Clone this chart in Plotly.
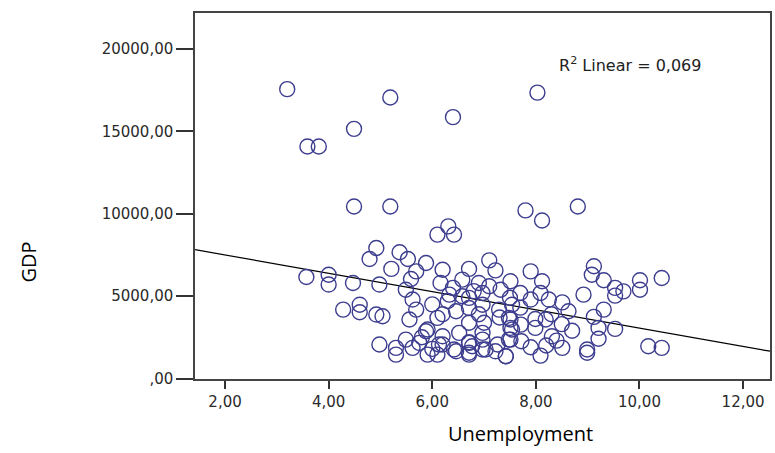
import plotly.graph_objects as go

# Unemployment (x) and GDP (y) values
unemployment = [
    3.20, 5.19, 6.40, 4.49, 3.59, 3.81, 4.49, 5.19, 6.31, 6.10, 6.42,
    8.03, 7.80, 8.12, 8.81,
    4.92, 4.79, 5.37, 5.53, 5.21, 5.88, 5.69, 6.20, 6.71, 5.59, 6.16, 6.58,
    3.57, 4.00, 4.00, 4.47, 4.98, 5.49, 5.62, 6.33, 6.58, 4.28, 4.60, 4.60,
    4.92, 5.04, 5.69, 5.56, 6.10, 6.46, 6.71, 5.91, 6.20, 6.52, 4.98, 5.49,
    5.75, 5.30, 5.30, 5.62, 6.10, 6.13, 6.71, 6.71, 6.46,
    7.10, 7.22, 7.90, 8.12, 7.51, 6.90, 7.32, 7.70, 8.09, 6.97, 7.90, 8.25,
    8.51, 8.63, 6.97, 6.71, 8.92, 9.12, 9.08, 9.31, 9.53, 9.53, 9.69, 10.01,
    10.01, 10.43, 9.31, 9.12, 9.21, 9.53, 9.21, 8.99, 8.99, 8.51, 8.09, 10.17,
    10.43, 8.31, 7.99, 7.99, 7.51, 7.54, 7.51, 7.26, 7.42, 7.00, 6.97, 7.03,
    6.77, 7.72, 8.19, 7.71, 7.29, 7.54,
    6.71, 5.88, 6.97, 7.48, 7.51, 6.20, 6.71, 7.48, 7.22, 5.91, 6.71, 7.42,
    6.97, 6.42,
    6.00, 6.30, 6.80, 7.10, 6.40, 7.50, 7.70, 6.20, 6.90, 7.30, 8.30, 8.50,
    8.70, 8.40, 7.90, 8.20, 5.80, 6.00,
]
gdp = [
    17560, 17050, 15860, 15150, 14080, 14080, 10440, 10440, 9230, 8730, 8730,
    17350, 10200, 9590, 10440,
    7920, 7250, 7660, 7250, 6650, 7010, 6500, 6600, 6650, 6040, 5800, 6000,
    6160, 6300, 5700, 5800, 5700, 5390, 4790, 5090, 4990, 4180, 4480, 4020,
    3880, 3780, 4180, 3580, 3680, 4080, 4280, 2970, 2560, 2770, 2060, 2360,
    2160, 1860, 1450, 1860, 1450, 2060, 2160, 1560, 1650,
    7170, 6560, 6500, 5900, 5900, 5800, 5390, 5190, 5190, 5190, 4790, 4790,
    4620, 4080, 4480, 4890, 5090, 6810, 6300, 5960, 5500, 5030, 5290, 5960,
    5390, 6100, 4180, 3740, 3070, 3010, 2410, 1760, 1560, 1860, 1390, 1960,
    1860, 2560, 3070, 3610, 3580, 2970, 2360, 2060, 1350, 3380, 2360, 1760,
    1960, 2260, 3580, 3270, 4180, 4480,
    3380, 2870, 2770, 3680, 3070, 2060, 2200, 2360, 1650, 1450, 1450, 1350,
    1760, 1760,
    4500, 4700, 5300, 5600, 5500, 4900, 4300, 3900, 3900, 3700, 3900, 3300,
    2900, 2300, 1900, 2000, 2500, 1800,
]

# Linear fit line as drawn in the picture (endpoints at the plot edges)
fit_x = [1.42, 12.52]
fit_y = [7818, 1655]

x_ticks = [2, 4, 6, 8, 10, 12]
x_ticktext = ["2,00", "4,00", "6,00", "8,00", "10,00", "12,00"]
y_ticks = [0, 5000, 10000, 15000, 20000]
y_ticktext = [",00", "5000,00", "10000,00", "15000,00", "20000,00"]

W, H = 775, 453
L, R, T, B = 195, 3, 13, 74

fig = go.Figure()
fig.add_trace(go.Scatter(
    x=fit_x, y=fit_y, mode="lines",
    line=dict(color="black", width=1.2),
    hoverinfo="skip", showlegend=False,
))
fig.add_trace(go.Scatter(
    x=unemployment, y=gdp, mode="markers",
    marker=dict(symbol="circle-open", size=15, color="#3d3d8f",
                line=dict(width=1.4, color="#3d3d8f")),
    showlegend=False,
))

axis_font = dict(family="DejaVu Sans, sans-serif", size=15, color="#2a2a2a")

fig.update_layout(
    width=W, height=H,
    margin=dict(l=L, r=R, t=T, b=B),
    paper_bgcolor="white", plot_bgcolor="white",
    xaxis=dict(
        range=[1.42, 12.52], tickvals=x_ticks, ticktext=x_ticktext,
        showgrid=False, zeroline=False, showline=True, mirror=True,
        linecolor="#444444", linewidth=1.5,
        ticks="outside", ticklen=8, tickwidth=1.5, tickcolor="#333333",
        tickfont=axis_font,
    ),
    yaxis=dict(
        range=[-30, 22180], tickvals=y_ticks, ticktext=y_ticktext,
        showgrid=False, zeroline=False, showline=True, mirror=True,
        linecolor="#444444", linewidth=1.5,
        ticks="outside", ticklen=17, tickwidth=1.5, tickcolor="#333333",
        tickfont=axis_font,
    ),
)

pw, ph = W - L - R, H - T - B
def px(x):
    return (x - L) / pw
def py(y):
    return (H - B - y) / ph

fig.add_annotation(text="R<sup>2</sup> Linear = 0,069", x=px(632), y=py(64),
                   xref="paper", yref="paper", showarrow=False,
                   xanchor="center", yanchor="middle",
                   font=dict(family="DejaVu Sans, sans-serif", size=16, color="#222222"))
fig.add_annotation(text="Unemployment", x=px(522), y=py(433),
                   xref="paper", yref="paper", showarrow=False,
                   xanchor="center", yanchor="middle",
                   font=dict(family="Open Sans, sans-serif", size=20, color="black"))
fig.add_annotation(text="GDP", x=px(27), y=py(262), textangle=-90,
                   xref="paper", yref="paper", showarrow=False,
                   xanchor="center", yanchor="middle",
                   font=dict(family="Open Sans, sans-serif", size=20, color="black"))

fig.write_html("out.html", config={"displayModeBar": False},
               post_script="document.body.style.margin='0';document.body.style.overflow='hidden';")
